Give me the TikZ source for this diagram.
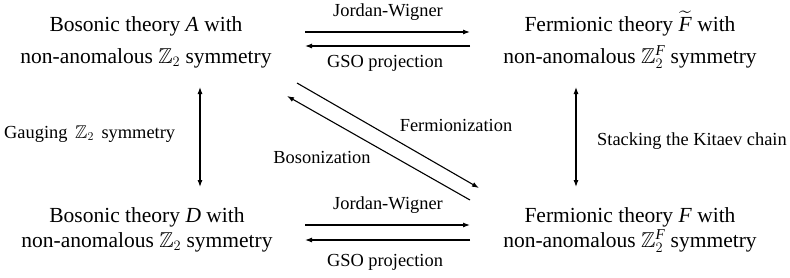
\documentclass[tikz,border=0pt]{standalone}
\usepackage{amsmath,amssymb}
\usepackage{fontspec}
\setmainfont{Liberation Serif}
\usetikzlibrary{arrows.meta}
\tikzset{
  theory/.style={align=center,inner sep=0pt,anchor=base,font=\fontsize{21.5}{32}\selectfont},
  lab/.style={inner sep=0pt,font=\fontsize{18.4}{22}\selectfont},
  arr/.style={line width=1.1pt,-{Latex[length=7pt,width=5pt]}},
  darr/.style={line width=1.1pt,{Latex[length=7pt,width=5pt]}-{Latex[length=7pt,width=5pt]}}
}
\newcommand{\itF}{\text{\textit{F}}}
\newcommand{\ZZtwo}{\,\mathbb{Z}_{\textstyle\text{\fontsize{0.7em}{1em}\selectfont 2}}\,}
\begin{document}
\begin{tikzpicture}[x=1pt,y=-1pt]
\useasboundingbox (0,0) rectangle (790,277);
% theories (anchor = baseline of the last line)
\node[theory] (A) at (146,63) {Bosonic theory \textit{A} with\\non-anomalous $\mathbb{Z}_2$ symmetry};
\node[theory] (Ft) at (630,63) {Fermionic theory $\widetilde{\itF}$ with\\non-anomalous $\mathbb{Z}_2^{\itF}$ symmetry};
\node[theory,font=\fontsize{21.5}{25}\selectfont] (D) at (147,247) {Bosonic theory \textit{D} with\\non-anomalous $\mathbb{Z}_2$ symmetry};
\node[theory,font=\fontsize{21.5}{25}\selectfont] (F) at (630,247) {Fermionic theory \textit{F} with\\non-anomalous $\mathbb{Z}_2^{\itF}$ symmetry};
% connector end points
\coordinate (t1a) at (305,32); \coordinate (t1b) at (470,32);
\coordinate (t2a) at (470,46); \coordinate (t2b) at (305,46);
\coordinate (b1a) at (305,225); \coordinate (b1b) at (470,225);
\coordinate (b2a) at (470,240); \coordinate (b2b) at (305,240);
\coordinate (la) at (200,87); \coordinate (lb) at (200,187);
\coordinate (ra) at (576,87); \coordinate (rb) at (576,187);
\coordinate (fa) at (297,83); \coordinate (fb) at (479,188);
\coordinate (ba) at (470,200); \coordinate (bb) at (287,96);
% connectors
\draw[arr] (t1a) -- (t1b);
\draw[arr] (t2a) -- (t2b);
\draw[arr] (b1a) -- (b1b);
\draw[arr] (b2a) -- (b2b);
\draw[darr] (la) -- (lb);
\draw[darr] (ra) -- (rb);
\draw[arr] (fa) -- (fb);
\draw[arr] (ba) -- (bb);
% labels
\node[lab] (jw1) at (388,12) {Jordan-Wigner};
\node[lab] (gso1) at (385,63) {GSO projection};
\node[lab] (jw2) at (388,205) {Jordan-Wigner};
\node[lab] (gso2) at (385,262) {GSO projection};
\node[lab,anchor=west] (gauge) at (4,134) {Gauging \,$\mathbb{Z}_2$\, symmetry};
\node[lab,anchor=west] (stack) at (597,141) {Stacking the Kitaev chain};
\node[lab] (ferm) at (456,125) {Fermionization};
\node[lab] (bos) at (322,157) {Bosonization};
\end{tikzpicture}
\end{document}
